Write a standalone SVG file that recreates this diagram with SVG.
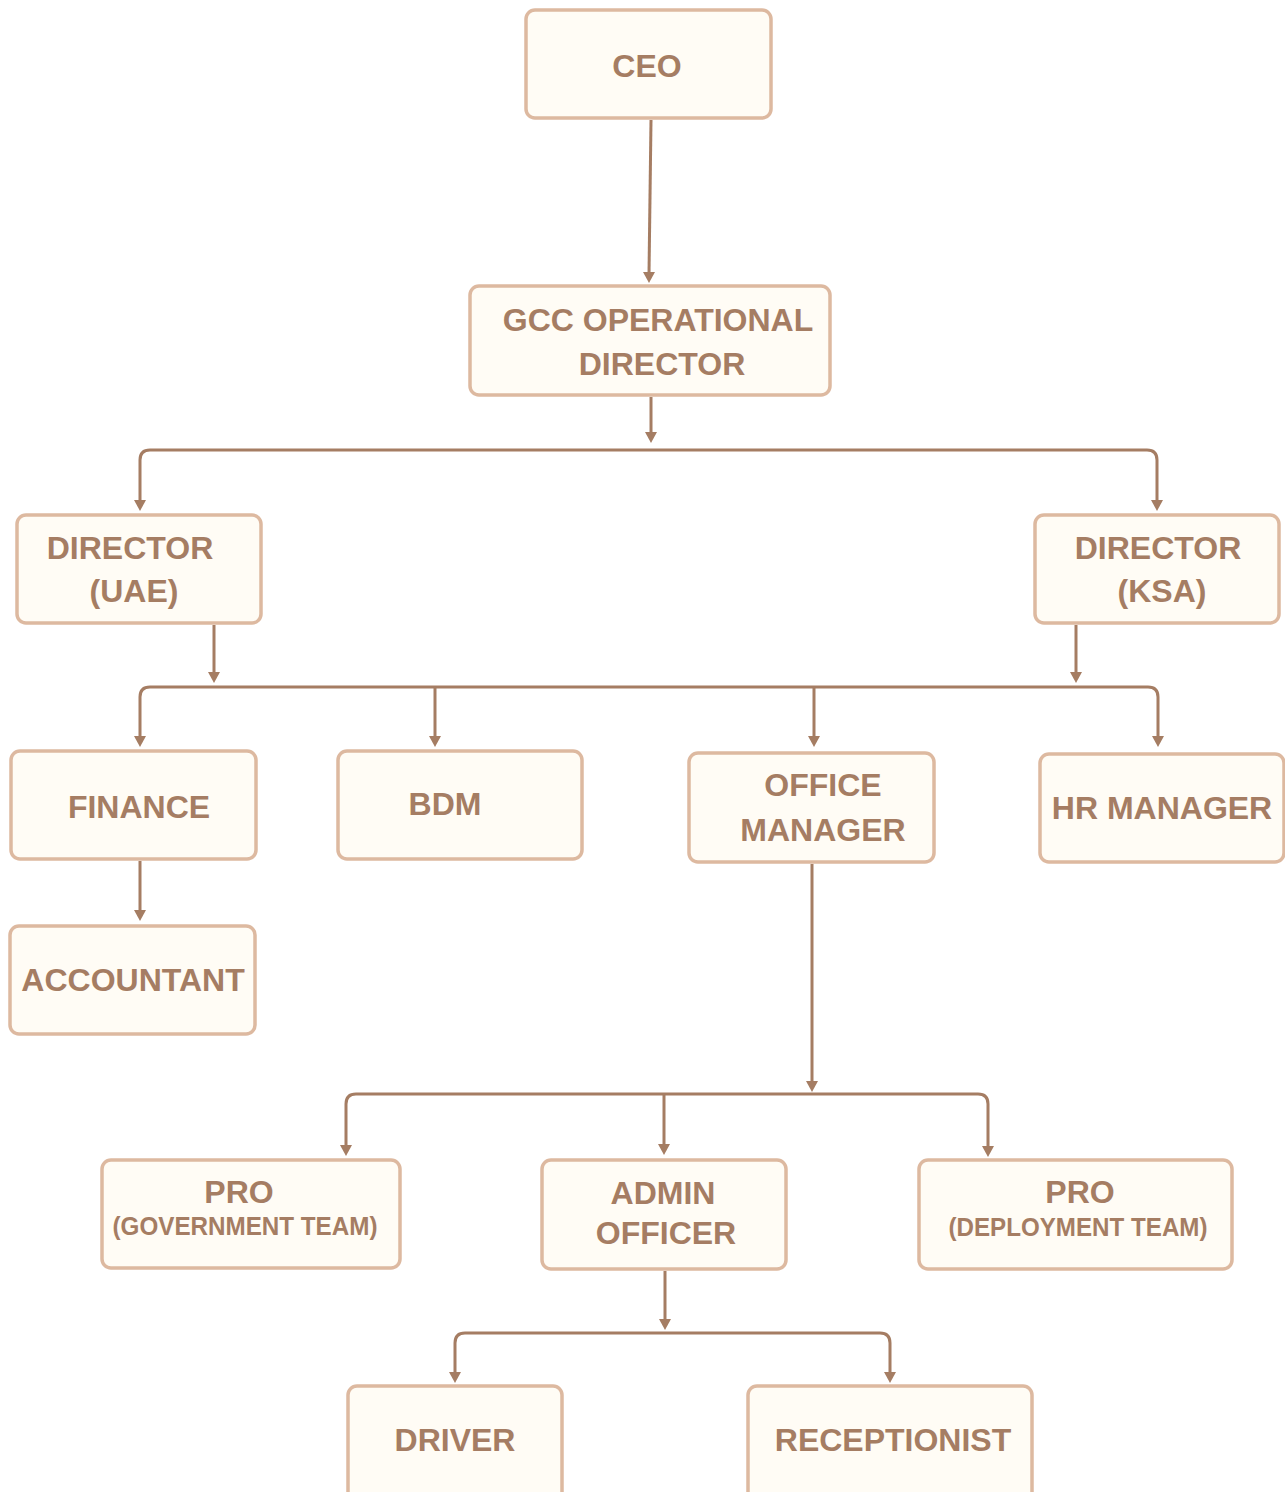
<svg xmlns="http://www.w3.org/2000/svg" width="1285" height="1492" viewBox="0 0 1285 1492">
<defs>
<marker id="arr" viewBox="0 0 12 10" refX="6" refY="9" markerWidth="12" markerHeight="10" markerUnits="userSpaceOnUse" orient="auto-start-reverse">
<path d="M0,0 L12,0 L6,10 Z" fill="#A57D63" transform="rotate(0)"/>
</marker>
<style>
.box{fill:#FFFCF5;stroke:#DDB9A0;stroke-width:3.5}
.t{font-family:"Liberation Sans",Arial,sans-serif;font-weight:bold;font-size:32px;fill:#A57D63;text-anchor:middle}
.s{font-size:26px}
.c{fill:none;stroke:#A57D63;stroke-width:3}
</style>
</defs>
<rect width="1285" height="1492" fill="#FFFFFF"/>
<g id="connectors">
<path class="c" d="M651,120 L649,274"/>
<path d="M643,272 L655,272 L649,283 Z" fill="#A57D63"/>
<path class="c" d="M651,397 L651,434"/>
<path d="M645,432 L657,432 L651,443 Z" fill="#A57D63"/>
<path class="c" d="M140,502 L140,460 Q140,450 150,450 L1147,450 Q1157,450 1157,460 L1157,502"/>
<path d="M134,500 L146,500 L140,511 Z" fill="#A57D63"/>
<path d="M1151,500 L1163,500 L1157,511 Z" fill="#A57D63"/>
<path class="c" d="M214,625 L214,674"/>
<path d="M208,672 L220,672 L214,683 Z" fill="#A57D63"/>
<path class="c" d="M1076,625 L1076,674"/>
<path d="M1070,672 L1082,672 L1076,683 Z" fill="#A57D63"/>
<path class="c" d="M140,738 L140,697 Q140,687 150,687 L1148,687 Q1158,687 1158,697 L1158,738"/>
<path d="M134,736 L146,736 L140,747 Z" fill="#A57D63"/>
<path d="M1152,736 L1164,736 L1158,747 Z" fill="#A57D63"/>
<path class="c" d="M435,687 L435,738"/>
<path d="M429,736 L441,736 L435,747 Z" fill="#A57D63"/>
<path class="c" d="M814,687 L814,738"/>
<path d="M808,736 L820,736 L814,747 Z" fill="#A57D63"/>
<path class="c" d="M140,861 L140,912"/>
<path d="M134,910 L146,910 L140,921 Z" fill="#A57D63"/>
<path class="c" d="M812,864 L812,1083"/>
<path d="M806,1081 L818,1081 L812,1092 Z" fill="#A57D63"/>
<path class="c" d="M346,1147 L346,1104 Q346,1094 356,1094 L978,1094 Q988,1094 988,1104 L988,1148"/>
<path d="M340,1145 L352,1145 L346,1156 Z" fill="#A57D63"/>
<path d="M982,1146 L994,1146 L988,1157 Z" fill="#A57D63"/>
<path class="c" d="M664,1094 L664,1146"/>
<path d="M658,1144 L670,1144 L664,1155 Z" fill="#A57D63"/>
<path class="c" d="M665,1271 L665,1321"/>
<path d="M659,1319 L671,1319 L665,1330 Z" fill="#A57D63"/>
<path class="c" d="M455,1374 L455,1343 Q455,1333 465,1333 L880,1333 Q890,1333 890,1343 L890,1374"/>
<path d="M449,1372 L461,1372 L455,1383 Z" fill="#A57D63"/>
<path d="M884,1372 L896,1372 L890,1383 Z" fill="#A57D63"/>
</g>
<g id="ceo"><rect class="box" x="526" y="10" width="245" height="108" rx="9"/><text class="t" x="647" y="77">CEO</text></g>
<g id="gcc"><rect class="box" x="470" y="286" width="360" height="109" rx="9"/><text class="t" x="658" y="331">GCC OPERATIONAL</text><text class="t" x="662" y="375">DIRECTOR</text></g>
<g id="dir-uae"><rect class="box" x="17" y="515" width="244" height="108" rx="9"/><text class="t" x="130" y="559">DIRECTOR</text><text class="t" x="134" y="602">(UAE)</text></g>
<g id="dir-ksa"><rect class="box" x="1035" y="515" width="244" height="108" rx="9"/><text class="t" x="1158" y="559">DIRECTOR</text><text class="t" x="1162" y="602">(KSA)</text></g>
<g id="finance"><rect class="box" x="11" y="751" width="245" height="108" rx="9"/><text class="t" x="139" y="818">FINANCE</text></g>
<g id="bdm"><rect class="box" x="338" y="751" width="244" height="108" rx="9"/><text class="t" x="445" y="815">BDM</text></g>
<g id="office-manager"><rect class="box" x="689" y="753" width="245" height="109" rx="9"/><text class="t" x="823" y="796">OFFICE</text><text class="t" x="823" y="841">MANAGER</text></g>
<g id="hr-manager"><rect class="box" x="1040" y="754" width="244" height="108" rx="9"/><text class="t" x="1162" y="819">HR MANAGER</text></g>
<g id="accountant"><rect class="box" x="10" y="926" width="245" height="108" rx="9"/><text class="t" x="133" y="991">ACCOUNTANT</text></g>
<g id="pro-gov"><rect class="box" x="102" y="1160" width="298" height="108" rx="9"/><text class="t" x="239" y="1203">PRO</text><text class="t s" x="245" y="1235" textLength="265" lengthAdjust="spacingAndGlyphs">(GOVERNMENT TEAM)</text></g>
<g id="admin-officer"><rect class="box" x="542" y="1160" width="244" height="109" rx="9"/><text class="t" x="663" y="1204">ADMIN</text><text class="t" x="666" y="1244">OFFICER</text></g>
<g id="pro-dep"><rect class="box" x="919" y="1160" width="313" height="109" rx="9"/><text class="t" x="1080" y="1203">PRO</text><text class="t s" x="1078" y="1236" textLength="259" lengthAdjust="spacingAndGlyphs">(DEPLOYMENT TEAM)</text></g>
<g id="driver"><rect class="box" x="348" y="1386" width="214" height="130" rx="9"/><text class="t" x="455" y="1451">DRIVER</text></g>
<g id="receptionist"><rect class="box" x="748" y="1386" width="284" height="130" rx="9"/><text class="t" x="893" y="1451">RECEPTIONIST</text></g>
</svg>
